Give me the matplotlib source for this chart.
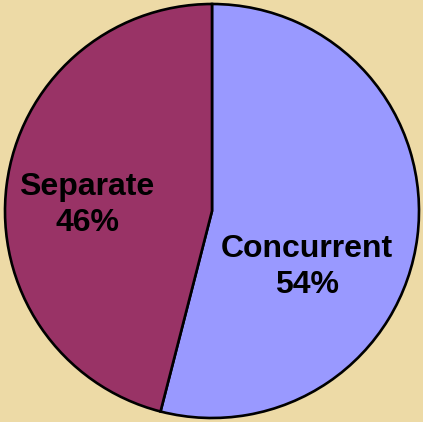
import matplotlib
matplotlib.use("Agg")
import matplotlib.pyplot as plt

labels = ["Concurrent", "Separate"]
shares = [54, 46]
colors = ["#9999FF", "#993366"]

fig = plt.figure(figsize=(4.23, 4.22), dpi=100)
fig.patch.set_facecolor("#EDDAA6")
ax = fig.add_axes([0, 0, 1, 1])
ax.set_facecolor("#EDDAA6")

ax.pie(shares, colors=colors, startangle=90, counterclock=False,
       radius=1.0, wedgeprops=dict(edgecolor="black", linewidth=1.9))

# pie centre at (212, 211) px, radius 207 px
r = 207.0
ax.set_xlim(-212 / r, (423 - 212) / r)
ax.set_ylim(-(422 - 211) / r, 211 / r)
ax.set_aspect("auto")
ax.axis("off")

font = dict(family="Liberation Sans", weight="bold", size=23, ha="center", va="center",
            linespacing=1.22)
ax.text((307 - 212) / r, (211 - 267) / r, f"{labels[0]}\n{shares[0]}%", **font)
ax.text((87 - 212) / r, (211 - 205) / r, f"{labels[1]}\n{shares[1]}%", **font)

fig.savefig("out.png", dpi=100, facecolor=fig.get_facecolor())
